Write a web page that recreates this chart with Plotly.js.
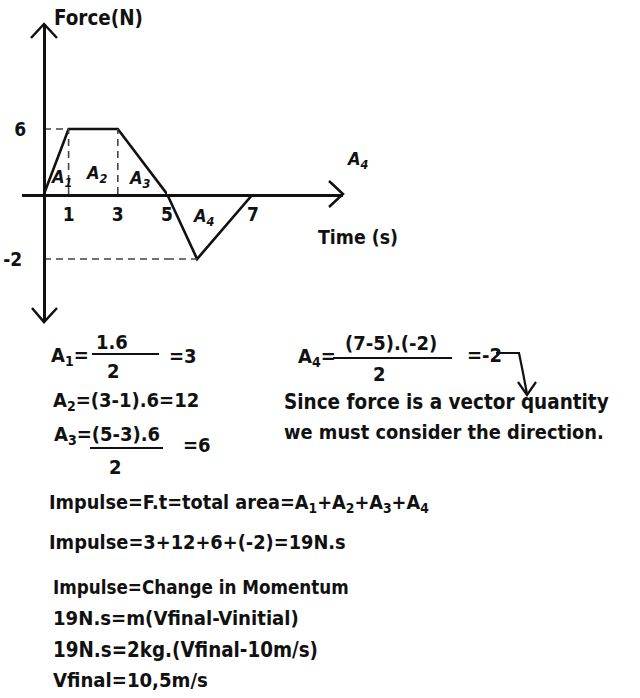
<!DOCTYPE html>
<html><head><meta charset="utf-8">
<script src="https://cdn.plot.ly/plotly-3.0.1.min.js"></script>
<style>html,body{margin:0;padding:0;background:#fff;} #chart{width:640px;height:698px;}</style>
</head><body><div id="chart"></div>
<script>
// ---- data ----
const time = [0, 1, 3, 5, 5.7, 7];        // s
const force = [0, 6, 6, 0, -2, 0];        // N
const xTickVals = [1, 3, 5, 7];
const yTickVals = [6, -2];
const areaLabels = ['A<sub>1</sub>', 'A<sub>2</sub>', 'A<sub>3</sub>', 'A<sub>4</sub>'];
const yTitle = 'Force(N)';
const xTitle = 'Time (s)';
const workLines = [
  'Impulse=F.t=total area=A<sub>1</sub>+A<sub>2</sub>+A<sub>3</sub>+A<sub>4</sub>',
  'Impulse=3+12+6+(-2)=19N.s',
  'Impulse=Change in Momentum',
  '19N.s=m(Vfinal-Vinitial)',
  '19N.s=2kg.(Vfinal-10m/s)',
  'Vfinal=10,5m/s'
];
const noteLines = ['Since force is a vector quantity', 'we must consider the direction.'];

// ---- layout helpers (page pixels -> paper) ----
const W = 640, H = 698;
const FAM = '"DejaVu Sans Condensed", "DejaVu Sans", sans-serif';
const WEIGHT = 'bold';
const px = x => x / W;
const py = y => 1 - y / H;

const cv = document.createElement('canvas').getContext('2d');
function textWidth(text, size) {
  let w = 0;
  text.split(/(<sub>.*?<\/sub>)/).forEach(part => {
    if (!part) return;
    const isSub = part.startsWith('<sub>');
    const s = isSub ? size * 0.7 : size;
    cv.font = WEIGHT + ' ' + s + 'px ' + FAM;
    w += cv.measureText(part.replace(/<[^>]+>/g, '')).width;
  });
  return w;
}
function fitSize(text, target) { return 100 * target / textWidth(text, 100); }

function ann(text, x, y, size, xanchor, extra) {
  return Object.assign({
    text: text, x: px(x), y: py(y), xref: 'paper', yref: 'paper',
    xanchor: xanchor || 'left', yanchor: 'middle', showarrow: false, borderpad: 0,
    font: {family: FAM, weight: WEIGHT, size: size, color: '#111'}
  }, extra || {});
}
// long text placed from its left edge with a width
function fitted(text, left, right, y) { return ann(text, left, y, fitSize(text, right - left), 'left'); }
function seg(x0, y0, x1, y1, w) {
  return {type: 'line', xref: 'paper', yref: 'paper', x0: px(x0), y0: py(y0), x1: px(x1), y1: py(y1),
    line: {color: '#111', width: w || 2}};
}
function path(pts, w) {
  let d = '';
  pts.forEach((p, i) => { d += (i ? ' L ' : 'M ') + px(p[0]) + ',' + py(p[1]); });
  return {type: 'path', xref: 'paper', yref: 'paper', path: d, line: {color: '#111', width: w || 2.5}};
}

// axis geometry (pixels) - the sketch is not to scale, so each lobe gets its own linear scale
const axLeft = 22, axRight = 343, originX = 44, axisY = 194, axTop = 24, axBottom = 322, splitX = 167;
const split = force.findIndex(v => v < 0) - 1;      // index of the zero crossing
const tSplit = time[split];
const kx1 = (splitX - originX) / tSplit;             // px per s, positive lobe
const kx2 = 43;                                      // px per s, negative lobe
const kyUp = 65 / 6;                                 // px per N above the axis
const kyDown = 65 / 2;                               // px per N below the axis

const fMax = Math.max(...force), fMin = Math.min(...force);
const iMax = force.indexOf(fMax), iMaxLast = force.lastIndexOf(fMax), iMin = force.indexOf(fMin);

const solid = {color: '#111', width: 2.6};
const dashed = {color: '#444', width: 1.6, dash: '7px,5px'};
const traces = [
  {x: time.slice(0, split + 1), y: force.slice(0, split + 1), xaxis: 'x', yaxis: 'y', mode: 'lines', line: solid},
  {x: time.slice(split), y: force.slice(split), xaxis: 'x2', yaxis: 'y2', mode: 'lines', line: solid},
  {x: [0, time[iMax], null, time[iMax], time[iMax], null, time[iMaxLast], time[iMaxLast]],
   y: [fMax, fMax, null, 0, fMax, null, 0, fMax], xaxis: 'x', yaxis: 'y', mode: 'lines', line: dashed},
  {x: [0, tSplit], y: [fMin, fMin], xaxis: 'x', yaxis: 'y2', mode: 'lines', line: dashed},
  {x: [tSplit, time[iMin]], y: [fMin, fMin], xaxis: 'x2', yaxis: 'y2', mode: 'lines', line: dashed}
];

const TS = 19;   // tick label size
const ES = 20;   // equation text size
const tickFont = {family: FAM, weight: WEIGHT, size: TS, color: '#111'};
const baseX = {showline: true, linecolor: '#111', linewidth: 2.6, showgrid: false, zeroline: false,
  tickmode: 'array', ticks: 'outside', ticklen: 2, tickcolor: 'rgba(0,0,0,0)', tickfont: tickFont, anchor: 'y'};
const baseY = {showline: true, linecolor: '#111', linewidth: 2.6, showgrid: false, zeroline: false,
  tickmode: 'array', ticks: 'outside', tickcolor: 'rgba(0,0,0,0)', tickfont: tickFont, anchor: 'free', position: px(originX)};
const xt1 = xTickVals.filter(v => v <= tSplit), xt2 = xTickVals.filter(v => v > tSplit);
const yt1 = yTickVals.filter(v => v > 0), yt2 = yTickVals.filter(v => v < 0);

const italicA = (t, x, y) => ann(t, x, y, 18, 'center',
  {font: {family: FAM, weight: WEIGHT, size: 18, color: '#111', style: 'italic'}});

const layout = {
  width: W, height: H, margin: {l: 0, r: 0, t: 0, b: 0},
  paper_bgcolor: '#fff', plot_bgcolor: 'rgba(0,0,0,0)', showlegend: false, hovermode: false,
  xaxis: Object.assign({}, baseX, {domain: [px(axLeft), px(splitX)],
    range: [-(originX - axLeft) / kx1, tSplit], tickvals: xt1, ticktext: xt1.map(String)}),
  xaxis2: Object.assign({}, baseX, {domain: [px(splitX), px(axRight)],
    range: [tSplit, tSplit + (axRight - splitX) / kx2], tickvals: xt2, ticktext: xt2.map(String)}),
  yaxis: Object.assign({}, baseY, {domain: [py(axisY), py(axTop)], range: [0, (axisY - axTop) / kyUp],
    tickvals: yt1, ticktext: yt1.map(String), ticklen: 13}),
  yaxis2: Object.assign({}, baseY, {domain: [py(axBottom), py(axisY)], range: [-(axBottom - axisY) / kyDown, 0],
    tickvals: yt2, ticktext: yt2.map(String), ticklen: 17}),
  shapes: [
    // axis arrowheads
    path([[31, 38], [originX, axTop], [57, 38]]),
    path([[32, 308], [originX, axBottom], [57, 308]]),
    path([[329, 181], [axRight, axisY], [329, 207]]),
    // fraction bars
    seg(92, 354, 159, 354, 2.2),
    seg(90, 448, 163, 448, 2.2),
    seg(333, 358, 452, 358, 2.2),
    // bent arrow after =-2
    {type: 'path', xref: 'paper', yref: 'paper', line: {color: '#111', width: 2.2},
     path: 'M ' + px(496) + ',' + py(353) + ' L ' + px(519) + ',' + py(353) + ' Q ' + px(523) + ',' + py(372) + ' ' + px(527) + ',' + py(394)},
    path([[518, 382], [527, 395], [536, 382]], 2.2)
  ],
  annotations: [
    fitted(yTitle, 53, 142, 18),
    fitted(xTitle, 317, 397, 237),
    italicA(areaLabels[0], 61, 178),
    italicA(areaLabels[1], 96, 174),
    italicA(areaLabels[2], 139, 179),
    italicA(areaLabels[3], 203, 217),
    italicA(areaLabels[3], 357, 160),
    // A1
    ann('A<sub>1</sub>=', 50, 356, ES),
    ann('1.6', 112, 342, ES, 'center'),
    ann('2', 113, 371, ES, 'center'),
    ann('=3', 168, 356, ES),
    // A2
    ann('A<sub>2</sub>=(3-1).6=12', 52, 401, ES),
    // A3
    ann('A<sub>3</sub>=(5-3).6', 53, 435, ES),
    ann('=6', 182, 445, ES),
    ann('2', 115, 467, ES, 'center'),
    // A4
    ann('A<sub>4</sub>=', 297, 357, ES),
    ann('(7-5).(-2)', 391, 343, ES, 'center'),
    ann('2', 379, 374, ES, 'center'),
    ann('=-2', 466, 355, ES),
    fitted(noteLines[0], 283, 608, 402),
    fitted(noteLines[1], 283, 603, 432),
    fitted(workLines[0], 48, 428, 503),
    fitted(workLines[1], 48, 345, 542),
    fitted(workLines[2], 52, 348, 587),
    fitted(workLines[3], 52, 298, 618),
    fitted(workLines[4], 52, 317, 650),
    fitted(workLines[5], 52, 207, 680)
  ]
};
Plotly.newPlot('chart', traces, layout, {staticPlot: true, displayModeBar: false});
</script></body></html>
